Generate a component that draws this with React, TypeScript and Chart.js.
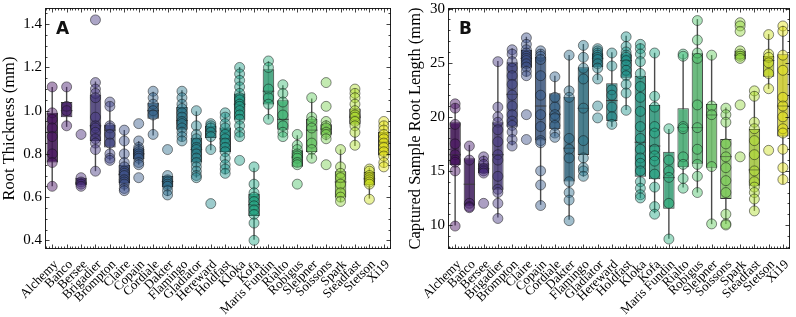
import React, { useEffect, useRef } from "react";
import { Chart, registerables } from "chart.js";

Chart.register(...registerables);

// ---------------- data ----------------
const varieties = [
  "Alchemy", "Banco", "Bersee", "Brigadier", "Brompton", "Claire", "Copain", "Cordiale",
  "Dakter", "Flamingo", "Gladiator", "Hereward", "Holdfast", "Kloka", "Kofa", "Maris Fundin",
  "Rialto", "Robigus", "Sleipner", "Soissons", "Spark", "Steadfast", "Stetson", "Xi19",
];

// Panel A: root thickness (mm)
const thicknessLow = [0.65, 0.925, 0.655, 0.72, 0.77, 0.63, 0.75, 0.885, 0.605, 0.858, 0.69, 0.817, 0.706, 0.878, 0.403, 0.96, 0.878, 0.74, 0.778, 0.863, 0.577, 0.837, 0.593, 0.736];
const thicknessQ1 = [0.76, 0.97, 0.655, 0.86, 0.83, 0.665, 0.775, 0.963, 0.647, 0.912, 0.76, 0.874, 0.809, 0.958, 0.513, 1.028, 0.912, 0.74, 0.809, 0.889, 0.598, 0.936, 0.655, 0.793];
const thicknessMedian = [0.9, 1.0, 0.665, 0.93, 0.91, 0.705, 0.8, 1.0, 0.672, 0.955, 0.82, 0.905, 0.87, 1.03, 0.565, 1.09, 0.96, 0.785, 0.91, 0.915, 0.67, 0.97, 0.685, 0.855];
const thicknessQ3 = [0.99, 1.04, 0.69, 1.075, 0.935, 0.75, 0.825, 1.037, 0.698, 1.017, 0.875, 0.929, 0.922, 1.079, 0.616, 1.192, 1.048, 0.817, 0.963, 0.937, 0.72, 1.01, 0.716, 0.901];
const thicknessHigh = [1.11, 1.11, 0.69, 1.135, 1.04, 0.91, 0.86, 1.087, 0.7, 1.094, 0.997, 0.945, 0.987, 1.202, 0.736, 1.229, 1.118, 0.886, 1.056, 0.956, 0.821, 1.102, 0.736, 0.951];
const thicknessPoints = [
  [1.11, 0.99, 0.96, 0.92, 0.88, 0.8, 0.76, 0.65],
  [1.11, 1.02, 1.0, 0.93],
  [0.89, 0.69, 0.67, 0.66, 0.65],
  [1.42, 1.13, 1.1, 1.08, 1.06, 0.97, 0.93, 0.92, 0.9, 0.87, 0.85, 0.82, 0.72],
  [1.04, 1.02, 0.93, 0.92, 0.89, 0.85, 0.8, 0.78, 0.77],
  [0.91, 0.86, 0.8, 0.76, 0.74, 0.72, 0.71, 0.7, 0.68, 0.67, 0.66, 0.64, 0.63],
  [0.94, 0.86, 0.83, 0.82, 0.81, 0.8, 0.79, 0.78, 0.76, 0.75, 0.69],
  [1.09, 1.06, 1.03, 1.0, 0.98, 0.89],
  [0.82, 0.7, 0.68, 0.67, 0.66, 0.65, 0.63, 0.61],
  [1.09, 1.06, 1.03, 1.01, 0.99, 0.97, 0.95, 0.94, 0.92, 0.9, 0.88, 0.86],
  [1.0, 0.93, 0.89, 0.87, 0.85, 0.83, 0.82, 0.8, 0.78, 0.76, 0.74, 0.72, 0.7, 0.69],
  [0.94, 0.93, 0.92, 0.9, 0.88, 0.82, 0.57],
  [0.99, 0.97, 0.94, 0.92, 0.89, 0.87, 0.85, 0.83, 0.81, 0.78, 0.75, 0.73, 0.71],
  [1.2, 1.17, 1.14, 1.11, 1.08, 1.06, 1.05, 1.03, 1.02, 1.0, 0.98, 0.96, 0.93, 0.9, 0.88, 0.77],
  [0.74, 0.66, 0.62, 0.6, 0.58, 0.56, 0.54, 0.52, 0.48, 0.4],
  [1.23, 1.2, 1.1, 1.06, 1.03, 0.96],
  [1.12, 1.08, 1.04, 0.98, 0.93, 0.9, 0.88],
  [0.89, 0.84, 0.82, 0.8, 0.79, 0.78, 0.76, 0.75, 0.66],
  [1.06, 0.97, 0.95, 0.92, 0.85, 0.82, 0.78],
  [1.13, 1.02, 0.95, 0.93, 0.92, 0.9, 0.89, 0.87, 0.75],
  [0.82, 0.74, 0.71, 0.69, 0.66, 0.62, 0.6, 0.58],
  [1.1, 1.08, 1.06, 1.03, 1.0, 0.98, 0.97, 0.95, 0.93, 0.9, 0.84],
  [0.73, 0.72, 0.7, 0.69, 0.68, 0.67, 0.66, 0.59],
  [0.95, 0.93, 0.91, 0.89, 0.87, 0.85, 0.83, 0.81, 0.79, 0.76, 0.74],
];

// Panel B: captured sample root length (mm)
const lengthLow = [9.95, 11.77, 14.79, 10.69, 17.34, 23.71, 11.86, 18.17, 10.48, 14.47, 23.4, 19.09, 20.63, 12.48, 11.09, 8.72, 13.46, 13.0, 10.08, 10.08, 25.31, 11.3, 22.57, 13.8];
const lengthQ1 = [15.55, 11.77, 14.79, 13.25, 19.09, 24.54, 17.8, 18.85, 14.01, 16.48, 24.58, 19.62, 23.62, 14.47, 14.23, 11.49, 15.34, 15.65, 15.3, 12.41, 25.31, 13.62, 23.71, 18.17];
const lengthMedian = [16.5, 13.77, 15.2, 16.5, 22.08, 25.4, 21.0, 20.24, 17.1, 20.79, 25.4, 21.5, 25.2, 17.65, 17.3, 14.38, 19.0, 19.0, 20.17, 16.32, 25.7, 15.09, 25.2, 21.0];
const lengthQ3 = [19.5, 16.17, 15.71, 19.5, 25.04, 26.17, 25.55, 22.17, 21.86, 24.58, 25.87, 23.1, 25.78, 23.8, 21.09, 16.78, 20.79, 25.87, 21.18, 17.95, 26.11, 18.88, 25.62, 25.78];
const lengthHigh = [21.25, 17.4, 16.41, 25.16, 26.33, 27.4, 26.24, 23.8, 25.71, 26.73, 26.39, 25.96, 27.5, 26.79, 25.92, 18.88, 25.78, 29.03, 25.71, 20.85, 26.11, 22.39, 27.65, 28.42];
const lengthPoints = [
  [21.2, 20.8, 19.3, 17.5, 16.5, 16.0, 15.8, 15.0, 9.9],
  [17.3, 16.0, 12.0, 11.7, 11.6],
  [16.3, 15.9, 15.6, 15.2, 15.0, 14.8, 12.0],
  [25.1, 20.9, 20.0, 19.5, 18.8, 17.7, 16.5, 16.0, 14.5, 13.3, 13.0, 12.0, 10.6],
  [26.2, 25.8, 25.1, 24.5, 23.8, 23.0, 22.0, 21.0, 20.2, 19.6, 19.2, 18.6, 17.9, 17.3],
  [27.3, 26.7, 26.2, 25.9, 25.6, 25.4, 25.2, 24.9, 24.6, 24.2, 23.8, 20.2, 17.9],
  [26.1, 25.8, 25.6, 25.3, 23.8, 22.0, 20.2, 19.1, 17.8, 17.6, 15.0, 13.7, 11.8],
  [23.7, 21.8, 20.9, 20.2, 19.9, 19.2, 18.5, 18.1],
  [25.7, 22.4, 21.8, 18.0, 17.0, 16.2, 14.0, 13.0, 12.3, 10.4],
  [26.6, 25.5, 24.5, 23.5, 20.8, 17.8, 16.2, 15.3, 15.0, 14.5],
  [26.3, 26.1, 25.9, 25.7, 25.5, 25.3, 24.9, 24.5, 23.5, 21.0, 19.9],
  [25.9, 24.7, 22.5, 22.0, 20.9, 20.0, 19.3],
  [27.4, 26.5, 26.0, 25.7, 25.5, 25.2, 24.8, 24.3, 23.8, 23.0, 22.2, 20.6],
  [26.7, 26.3, 25.8, 25.1, 24.0, 22.8, 21.8, 20.5, 19.1, 18.0, 17.0, 16.2, 15.7, 15.0, 14.0, 13.4, 12.8, 12.5],
  [25.9, 21.9, 20.9, 19.1, 18.5, 17.0, 16.4, 15.9, 14.7, 13.5, 11.7, 11.0],
  [18.9, 16.0, 15.0, 14.4, 12.0, 8.7],
  [25.8, 25.6, 19.1, 18.9, 16.3, 15.6, 14.3, 13.4],
  [28.9, 27.1, 25.9, 25.4, 21.1, 19.0, 17.0, 15.6, 14.5, 13.0],
  [25.7, 21.0, 20.2, 15.4, 10.1],
  [20.8, 20.2, 19.5, 17.5, 16.3, 15.3, 14.1, 13.0, 11.0, 10.1, 10.0],
  [28.7, 28.4, 27.9, 26.1, 25.8, 25.6, 25.4, 21.1, 16.3],
  [22.4, 21.9, 19.5, 18.9, 17.8, 16.5, 15.0, 14.0, 13.5, 13.0, 12.4, 11.3],
  [27.6, 25.8, 25.5, 25.0, 24.0, 22.6, 16.9],
  [28.4, 27.9, 25.7, 24.3, 21.8, 21.0, 20.0, 18.9, 18.5, 17.0, 15.3, 14.2],
];

// ---------------- colours ----------------
const VIRIDIS = [
  "#440154", "#471365", "#482475", "#463480", "#414487", "#3b528b", "#355f8d",
  "#2f6c8e", "#2a788e", "#25848e", "#21918c", "#1e9c89", "#22a884", "#2fb47c",
  "#44bf70", "#5ec962", "#7ad151", "#9bd93c", "#bddf26", "#dfe318", "#fde725",
];

function hexToRgb(h: string): number[] {
  return [parseInt(h.slice(1, 3), 16), parseInt(h.slice(3, 5), 16), parseInt(h.slice(5, 7), 16)];
}

function viridis(t: number): number[] {
  const x = Math.max(0, Math.min(1, t)) * 20;
  const i = Math.min(19, Math.floor(x));
  const f = x - i;
  const a = hexToRgb(VIRIDIS[i]);
  const b = hexToRgb(VIRIDIS[i + 1]);
  return a.map((c, k) => c + (b[k] - c) * f);
}

function desaturate(rgb: number[], prop: number): number[] {
  const r = rgb[0] / 255, g = rgb[1] / 255, b = rgb[2] / 255;
  const max = Math.max(r, g, b), min = Math.min(r, g, b);
  const l = (max + min) / 2;
  let h = 0, s = 0;
  if (max !== min) {
    const d = max - min;
    s = l > 0.5 ? d / (2 - max - min) : d / (max + min);
    if (max === r) h = (g - b) / d + (g < b ? 6 : 0);
    else if (max === g) h = (b - r) / d + 2;
    else h = (r - g) / d + 4;
    h /= 6;
  }
  s *= prop;
  if (s === 0) return [l * 255, l * 255, l * 255];
  const q = l < 0.5 ? l * (1 + s) : l + s - l * s;
  const p = 2 * l - q;
  const hue = (t: number) => {
    if (t < 0) t += 1;
    if (t > 1) t -= 1;
    if (t < 1 / 6) return p + (q - p) * 6 * t;
    if (t < 1 / 2) return q;
    if (t < 2 / 3) return p + (q - p) * (2 / 3 - t) * 6;
    return p;
  };
  return [hue(h + 1 / 3) * 255, hue(h) * 255, hue(h - 1 / 3) * 255];
}

const rgbStr = (c: number[], a = 1) => `rgba(${Math.round(c[0])},${Math.round(c[1])},${Math.round(c[2])},${a})`;

const n = varieties.length;
const baseColors = varieties.map((_, i) => viridis((i + 1) / (n + 1)));
const boxColors = baseColors.map((c) => rgbStr(desaturate(c, 0.75), 0.9));
const pointColors = baseColors.map((c) => rgbStr(c, 0.45));

const SERIF = '"Liberation Serif", "Times New Roman", serif';
const LINE = "#3a3a3a";

interface PanelSpec {
  letter: string;
  title: string;
  low: number[];
  q1: number[];
  med: number[];
  q3: number[];
  high: number[];
  points: number[][];
  yMin: number;
  yMax: number;
  step: number;
  minorStep: number;
  decimals: number;
  leftWidth: number;
  rightPad: number;
  titlePad: number;
}

function makePlugin(spec: PanelSpec) {
  return {
    id: "boxExtras" + spec.letter,
    beforeDatasetsDraw(chart: any) {
      const ctx = chart.ctx;
      const xs = chart.scales.x, ys = chart.scales.y;
      ctx.save();
      ctx.strokeStyle = "#4a4a4a";
      ctx.lineWidth = 1.4;
      for (let i = 0; i < n; i++) {
        const x = xs.getPixelForValue(i);
        ctx.beginPath();
        ctx.moveTo(x, ys.getPixelForValue(spec.low[i]));
        ctx.lineTo(x, ys.getPixelForValue(spec.high[i]));
        ctx.stroke();
      }
      ctx.restore();
    },
    afterDatasetDraw(chart: any, args: any) {
      if (args.index !== 0) return;
      const ctx = chart.ctx;
      const ys = chart.scales.y;
      const meta = chart.getDatasetMeta(0);
      ctx.save();
      ctx.strokeStyle = LINE;
      ctx.lineWidth = 1;
      meta.data.forEach((bar: any, i: number) => {
        const y = ys.getPixelForValue(spec.med[i]);
        ctx.beginPath();
        ctx.moveTo(bar.x - bar.width / 2, y);
        ctx.lineTo(bar.x + bar.width / 2, y);
        ctx.stroke();
      });
      ctx.restore();
    },
    afterDraw(chart: any) {
      const ctx = chart.ctx;
      const a = chart.chartArea;
      const xs = chart.scales.x, ys = chart.scales.y;
      ctx.save();
      ctx.strokeStyle = "#222";
      ctx.lineWidth = 1;
      ctx.strokeRect(a.left + 0.5, a.top + 0.5, a.right - a.left - 1, a.bottom - a.top - 1);
      ctx.lineWidth = 0.8;
      ctx.strokeStyle = "#111";
      const kStart = Math.ceil(spec.yMin / spec.minorStep - 1e-9);
      const kEnd = Math.floor(spec.yMax / spec.minorStep + 1e-9);
      const ratio = Math.round(spec.step / spec.minorStep);
      for (let k = kStart; k <= kEnd; k++) {
        const y = Math.round(ys.getPixelForValue(k * spec.minorStep)) + 0.5;
        const len = k % ratio === 0 ? 4.5 : 2.5;
        ctx.beginPath();
        ctx.moveTo(a.left, y);
        ctx.lineTo(a.left + len, y);
        ctx.moveTo(a.right, y);
        ctx.lineTo(a.right - len, y);
        ctx.stroke();
      }
      for (let k = -2; k <= (n - 1) * 5 + 2; k++) {
        const v = k / 5;
        const x = Math.round(xs.getPixelForValue(v)) + 0.5;
        const len = k % 5 === 0 ? 4.5 : 2.5;
        ctx.beginPath();
        ctx.moveTo(x, a.bottom);
        ctx.lineTo(x, a.bottom - len);
        ctx.moveTo(x, a.top);
        ctx.lineTo(x, a.top + len);
        ctx.stroke();
      }
      ctx.fillStyle = "#111";
      ctx.font = 'bold 17px "DejaVu Sans", sans-serif';
      ctx.textBaseline = "alphabetic";
      ctx.textAlign = "left";
      ctx.fillText(spec.letter, a.left + 11, a.top + 26);
      ctx.restore();
    },
  };
}

function buildConfig(spec: PanelSpec): any {
  const pointData: { x: string; y: number }[] = [];
  const pointBg: string[] = [];
  spec.points.forEach((vals, i) => {
    vals.forEach((v) => {
      pointData.push({ x: varieties[i], y: v });
      pointBg.push(pointColors[i]);
    });
  });
  return {
    type: "bar",
    data: {
      labels: varieties,
      datasets: [
        {
          type: "bar",
          data: varieties.map((_, i) => [spec.q1[i], spec.q3[i]]),
          backgroundColor: boxColors,
          borderColor: LINE,
          borderWidth: 1,
          borderSkipped: false,
          barPercentage: 0.8,
          categoryPercentage: 1,
          order: 2,
        },
        {
          type: "line",
          data: pointData,
          showLine: false,
          pointRadius: 5,
          pointHoverRadius: 5,
          pointBackgroundColor: pointBg,
          pointBorderColor: "rgba(20,20,20,0.5)",
          pointBorderWidth: 1,
          order: 1,
        },
      ],
    },
    options: {
      responsive: false,
      animation: false,
      events: [],
      layout: { padding: { top: 8, right: spec.rightPad, bottom: 0, left: 0 } },
      plugins: { legend: { display: false }, tooltip: { enabled: false } },
      scales: {
        x: {
          type: "category",
          offset: true,
          grid: { display: false, drawTicks: false },
          border: { display: false },
          ticks: {
            autoSkip: false,
            maxRotation: 45,
            minRotation: 45,
            padding: 8,
            labelOffset: 4,
            color: "#000",
            font: { family: SERIF, size: 13 },
          },
          afterFit: (s: any) => {
            s.height = 68;
            s.paddingLeft = 0;
            s.paddingRight = 0;
          },
        },
        y: {
          type: "linear",
          min: spec.yMin,
          max: spec.yMax,
          grid: { display: false, drawTicks: false },
          border: { display: false },
          ticks: {
            stepSize: spec.step,
            includeBounds: false,
            padding: 3,
            color: "#000",
            font: { family: SERIF, size: 15 },
            callback: (v: any) => Number(v).toFixed(spec.decimals),
          },
          title: {
            display: true,
            text: spec.title,
            color: "#000",
            font: { family: SERIF, size: 16.5 },
            padding: { top: spec.titlePad, bottom: 0 },
          },
          afterFit: (s: any) => {
            s.width = spec.leftWidth;
            s.paddingTop = 0;
            s.paddingBottom = 0;
          },
        },
      },
    },
    plugins: [makePlugin(spec)],
  };
}

const panelA: PanelSpec = {
  letter: "A",
  title: "Root Thickness (mm)",
  low: thicknessLow,
  q1: thicknessQ1,
  med: thicknessMedian,
  q3: thicknessQ3,
  high: thicknessHigh,
  points: thicknessPoints,
  yMin: 0.36,
  yMax: 1.475,
  step: 0.2,
  minorStep: 0.05,
  decimals: 1,
  leftWidth: 45,
  rightPad: 7,
  titlePad: 0,
};

const panelB: PanelSpec = {
  letter: "B",
  title: "Captured Sample Root Length (mm)",
  low: lengthLow,
  q1: lengthQ1,
  med: lengthMedian,
  q3: lengthQ3,
  high: lengthHigh,
  points: lengthPoints,
  yMin: 7.78,
  yMax: 30.06,
  step: 5,
  minorStep: 1,
  decimals: 0,
  leftWidth: 50,
  rightPad: 4,
  titlePad: 8,
};

function Panel({ spec, left }: { spec: PanelSpec; left: number }) {
  const ref = useRef<HTMLCanvasElement | null>(null);
  useEffect(() => {
    if (!ref.current) return;
    const chart = new Chart(ref.current, buildConfig(spec));
    return () => chart.destroy();
  }, [spec]);
  return (
    <canvas
      ref={ref}
      width={398}
      height={317}
      style={{ position: "absolute", left, top: 0, width: 398, height: 317 }}
    />
  );
}

export default function App() {
  return (
    <div style={{ position: "fixed", left: 0, top: 0, width: 796, height: 317, background: "#fff" }}>
      <Panel spec={panelA} left={0} />
      <Panel spec={panelB} left={398} />
    </div>
  );
}
